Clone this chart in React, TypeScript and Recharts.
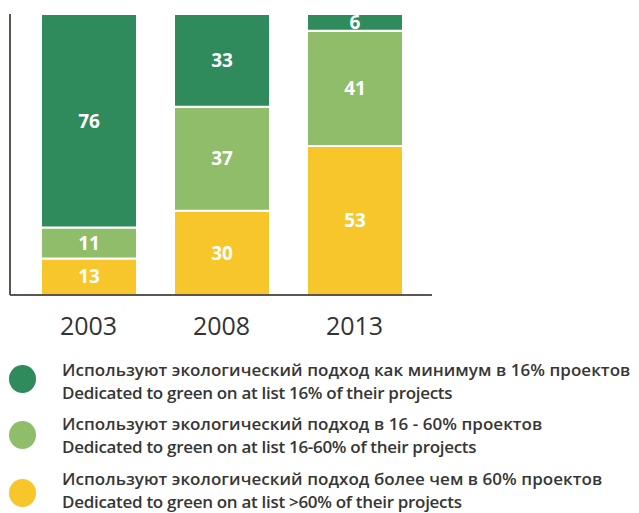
import React from "react";
import { BarChart, Bar, XAxis, YAxis, LabelList } from "recharts";

const years = ["2003", "2008", "2013"];
const atLeast16 = [76, 33, 6];
const from16to60 = [11, 37, 41];
const over60 = [13, 30, 53];

const legendItems = [
  { color: "#2f8a5c", ru: "Используют экологический подход как минимум в 16% проектов", en: "Dedicated to green on at list 16% of their projects" },
  { color: "#8fbd69", ru: "Используют экологический подход в 16 - 60% проектов", en: "Dedicated to green on at list 16-60% of their projects" },
  { color: "#f7c62a", ru: "Используют экологический подход более чем в 60% проектов", en: "Dedicated to green on at list >60% of their projects" },
];

const data = years.map((y, i) => ({ year: y, a: atLeast16[i], b: from16to60[i], c: over60[i] }));

const FONT = "'Open Sans', 'Noto Sans', sans-serif";
const labelStyle = { fill: "#ffffff", fontSize: 19, fontWeight: 700, fontFamily: FONT } as any;

export default function App() {
  return (
    <div style={{ position: "absolute", left: 0, top: 0, width: 639, height: 513, background: "#fff", fontFamily: FONT }}>
      <BarChart width={639} height={350} data={data} margin={{ top: 14, right: 207, left: 9, bottom: 0 }} barCategoryGap={37}>
        <XAxis dataKey="year" height={55} axisLine={{ stroke: "#5a5550", strokeWidth: 2 }} tickLine={false} tickSize={0} tickMargin={22}
          tick={{ fill: "#333333", fontSize: 25, fontFamily: FONT }} padding={{ left: 12, right: 11 }} />
        <YAxis domain={[0, 100]} width={1} tick={false} tickLine={false} axisLine={{ stroke: "#5a5550", strokeWidth: 2 }} />
        <Bar dataKey="c" stackId="s" fill="#f7c62a" stroke="#ffffff" strokeWidth={2} isAnimationActive={false} barSize={96}>
          <LabelList dataKey="c" position="center" style={labelStyle} />
        </Bar>
        <Bar dataKey="b" stackId="s" fill="#8fbd69" stroke="#ffffff" strokeWidth={2} isAnimationActive={false} barSize={96}>
          <LabelList dataKey="b" position="center" style={labelStyle} />
        </Bar>
        <Bar dataKey="a" stackId="s" fill="#2f8a5c" stroke="#ffffff" strokeWidth={2} isAnimationActive={false} barSize={96}>
          <LabelList dataKey="a" position="center" style={labelStyle} />
        </Bar>
      </BarChart>
      {legendItems.map((it, i) => (
        <div key={i} style={{ position: "absolute", left: 0, top: [358, 412, 467][i], width: 639, height: 48 }}>
          <div style={{ position: "absolute", left: 9, top: 7 + [0, 2, 5][i], width: 27, height: 28, borderRadius: "50%", background: it.color }} />
          <div style={{ position: "absolute", left: 62, top: 0, fontSize: 17, fontWeight: 600, lineHeight: "23px", color: "#363636", whiteSpace: "nowrap" }}>
            <div style={{ letterSpacing: 0.05 }}>{it.ru}</div>
            <div style={{ letterSpacing: -0.3 }}>{it.en}</div>
          </div>
        </div>
      ))}
    </div>
  );
}
